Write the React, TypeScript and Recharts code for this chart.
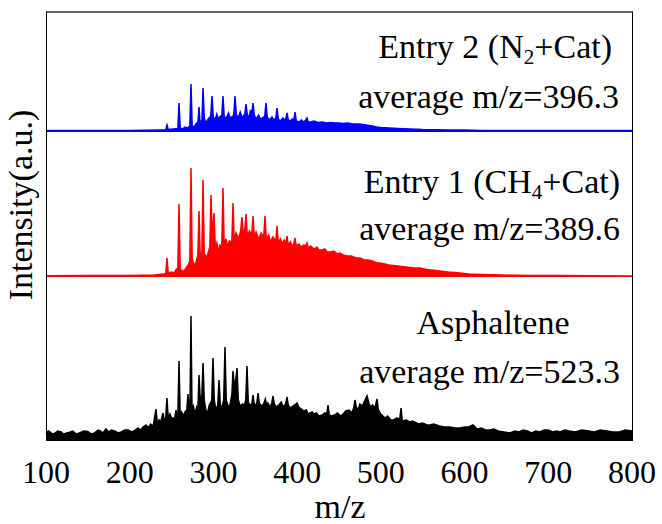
import { AreaChart, Area, XAxis, YAxis } from 'recharts';

// outline points [m/z, intensity]
const n2Cat: [number, number][] = [
  [100, 1.5], [150, 1.5], [200, 1.5], [236, 2], [243, 2], [244.5, 7], [246, 2.5], [252, 3], [257.5, 3.5],
  [258.9, 29], [260.3, 4], [263, 3], [266, 5], [269, 4], [271.8, 6], [273.2, 48], [274.6, 6], [277, 5],
  [279, 8], [281.5, 10], [282.8, 25], [284, 9], [286.3, 12], [287.6, 44], [289, 14], [291, 9], [293, 12],
  [296.8, 16], [298.3, 36], [299.8, 15], [302, 12], [304, 18], [306, 13], [308.5, 16], [310, 16],
  [311.4, 36], [312.8, 16], [315, 13], [318, 19], [320, 14], [322, 15], [324.3, 17], [325.8, 36],
  [327.3, 18], [329.5, 14], [332, 20], [334.5, 14], [337.5, 18], [338.9, 28], [340.3, 18], [342.5, 14],
  [344.3, 22], [345.8, 18], [347.3, 29], [348.8, 17], [351, 13], [354, 17], [356, 13], [358.5, 14],
  [361.3, 16], [362.8, 29], [364.3, 15], [367, 12], [370, 15], [372, 12], [374.5, 14], [376, 24],
  [377.5, 13], [380, 11], [383, 14], [385, 12], [386.4, 13], [387.9, 19], [389.4, 12], [392, 11],
  [394, 13], [396, 12], [397.5, 20], [399, 11], [402, 10], [405, 12], [408, 10], [410.3, 12],
  [411.8, 14], [413.3, 10], [416, 10], [420, 11], [425, 9.5], [430, 10], [435, 9], [440, 9.5],
  [445, 9], [450, 9], [455, 8.5], [460, 9], [467, 8], [475, 8], [482, 7], [490, 6], [495, 5],
  [500, 4.5], [510, 4], [520, 3.5], [535, 3], [550, 2.5], [565, 2.3], [580, 2], [600, 2], [620, 1.5],
  [700, 1.5], [800, 1.5],
];

const ch4Cat: [number, number][] = [
  [100, 1.2], [150, 1.5], [200, 1.5], [230, 2], [241, 3], [243, 3], [244.5, 19], [246, 4], [250, 5],
  [253, 4], [256, 8], [257.5, 9], [258.9, 73], [260.3, 8], [263, 6], [265, 6], [268, 10], [270, 12],
  [271.8, 16], [273.2, 109], [274.6, 18], [277, 12], [279, 14], [281.4, 22], [282.8, 66], [284.2, 20],
  [286.2, 25], [287.6, 97], [289, 24], [291, 20], [293, 22], [295.7, 30], [297.1, 82], [298.5, 40],
  [300.7, 64], [302.2, 30], [304, 34], [306, 26], [308, 32], [310, 30], [311.4, 89], [312.8, 32],
  [315, 38], [317, 30], [319, 36], [322, 35], [323.4, 74], [324.8, 36], [327, 44], [330, 38],
  [332.5, 46], [334.1, 60], [336, 40], [337.5, 48], [338.9, 63], [340.5, 40], [343, 46], [345.8, 42],
  [347.3, 61], [348.8, 40], [351, 45], [354, 38], [357, 44], [360.1, 40], [361.6, 61], [363.1, 38],
  [366, 42], [368, 35], [371, 40], [374.5, 36], [376, 51], [377.5, 34], [380, 38], [382, 33],
  [384.5, 37], [386.4, 34], [387.9, 41], [389.4, 32], [392, 35], [394, 31], [396, 33], [397.5, 39],
  [399, 31], [402, 33], [405, 30], [408, 32], [410.3, 31], [411.8, 34], [413.3, 29], [416, 31],
  [420, 28], [422.2, 29], [423.7, 30], [426, 27], [430, 27], [433, 28], [436, 25], [440, 25],
  [444, 26], [448, 23], [451.2, 24], [455, 22], [460, 21], [465, 21], [470, 19], [475, 19], [480, 17],
  [485, 17], [490, 16], [495, 14], [499, 14], [505, 13], [510, 12], [520, 11], [530, 10], [540, 9],
  [546.8, 9], [555, 7.5], [570, 6], [580, 5], [594.6, 4], [605, 3], [620, 2.5], [642.4, 2], [660, 1.8],
  [680, 1.5], [714, 1.5], [750, 1.3], [800, 1],
];

const asphaltene: [number, number][] = [
  [100, 7], [103, 9], [105, 8], [108, 6], [110, 6.5], [114, 9], [118, 8], [121, 6], [125, 7], [129, 8],
  [132, 9], [136, 6], [140, 7], [145, 9], [150, 8.5], [154, 6], [158, 7], [162, 10], [165, 9], [168, 7],
  [171.7, 11], [175, 8], [178, 10], [182, 9], [186, 7], [190, 8], [194, 10], [198, 10], [202, 8],
  [205, 9], [209.9, 12], [213, 10], [216, 13], [219.5, 15], [222, 12], [225, 16], [228, 14],
  [231.4, 31], [233, 16], [235, 20], [237, 18], [239.8, 27], [241.5, 18], [243, 22], [244.5, 42],
  [246, 21], [248, 26], [250, 22], [253.8, 22], [255.3, 30], [256.8, 22], [257.5, 24], [258.9, 79],
  [260.3, 24], [262, 28], [264, 24], [266, 28], [268.2, 30], [269.6, 46], [271, 30], [272, 32],
  [273.2, 124], [274.4, 30], [276, 34], [278, 26], [280, 33], [281.4, 30], [282.8, 65], [284.2, 40],
  [286.2, 45], [287.6, 77], [289, 40], [291, 30], [293, 27], [295, 35], [297, 38], [298, 40],
  [299.5, 82], [301, 40], [303, 30], [305.2, 35], [306.7, 60], [308.2, 35], [310, 32], [312.3, 40],
  [313.8, 93], [315.3, 40], [317, 35], [319, 33], [320.5, 38], [322, 45], [323.4, 69], [325, 55],
  [326.7, 60], [328.2, 72], [329.7, 40], [332, 34], [335, 36], [336.5, 33], [338.6, 40], [340.1, 74],
  [341.6, 38], [343.5, 35], [345.8, 36], [347.3, 45], [348.8, 36], [350.5, 34], [352, 38], [353.3, 47],
  [354.8, 37], [357, 34], [360, 36], [362, 41], [363.5, 35], [365, 37], [367.5, 33], [369.7, 37],
  [371.2, 44], [372.7, 36], [375, 33], [378, 35], [381, 38], [383, 33], [386.4, 36], [387.9, 43],
  [389.4, 35], [392, 32], [395, 34], [398.3, 36], [399.8, 37], [402, 33], [405, 31], [408, 29],
  [411, 30], [413, 26], [415.4, 27], [418, 28], [420, 26], [423, 27], [426, 24], [430, 25], [433, 27],
  [435.4, 26], [436.9, 35], [438.4, 25], [441, 24], [445, 25], [448, 27], [452, 24], [455, 26],
  [458, 29], [462, 30], [465, 27], [467.6, 32], [469.1, 40], [470.6, 33], [473, 30], [475, 36],
  [478, 34], [480, 38], [483.5, 44], [486, 36], [488, 33], [490, 35], [493, 32], [495.4, 41], [497, 30],
  [500, 26], [505, 22], [508, 24], [512, 20], [515, 20], [519, 22], [522.6, 21], [524.1, 32],
  [525.6, 19], [530, 20], [534.8, 18], [538, 19], [545, 16], [550, 17], [555, 15], [558.7, 15],
  [563, 16], [570, 14], [576, 13], [582.6, 13], [588, 12], [595, 12], [600, 13], [605, 13],
  [610.1, 15], [615, 11], [620, 12], [625, 10], [630.4, 10], [635, 11], [640, 9], [647, 8],
  [654.3, 7], [660, 9], [665, 8], [670, 10], [675, 9], [680, 7], [685, 9], [690.1, 8], [695, 10],
  [700, 10], [705, 8], [710, 9], [714, 8], [720, 10], [725, 9], [732, 8], [740, 10], [748, 9],
  [755, 8], [762, 10], [770, 9], [777, 8], [785, 8], [792, 10], [800, 9],
];

const xTicks = [100, 200, 300, 400, 500, 600, 700, 800];

const serif = "'Times New Roman', 'Liberation Serif', serif";
const toRows = (pts: [number, number][]) => pts.map(([mz, i]) => ({ mz, i }));

function Panel({ pts, color, top, height, max, axis }: {
  pts: [number, number][]; color: string; top: number; height: number; max: number; axis?: boolean;
}) {
  return (
    <div style={{ position: 'absolute', left: 0, top }}>
      <AreaChart width={662} height={height} data={toRows(pts)} margin={{ top: 0, right: 30, bottom: 0, left: 46 }}>
        <XAxis
          type="number"
          dataKey="mz"
          domain={[100, 800]}
          ticks={xTicks}
          hide={!axis}
          height={axis ? 84 : 0}
          axisLine={false}
          tickLine={false}
          tickSize={0}
          tickMargin={20}
          interval={0}
          tick={({ x, y, payload }: any) => (
            <text x={x} y={y} dy="0.71em" textAnchor="middle" fontSize={32} fontFamily={serif} fill="#000">
              {payload.value}
            </text>
          )}
        />
        <YAxis hide domain={[0, max]} />
        <Area
          type="linear"
          dataKey="i"
          stroke={color}
          strokeWidth={1.5}
          fill={color}
          fillOpacity={1}
          dot={false}
          activeDot={false}
          isAnimationActive={false}
        />
      </AreaChart>
    </div>
  );
}

const txt = { position: 'absolute' as const, fontFamily: serif, fontSize: 34, lineHeight: '34px', whiteSpace: 'nowrap' as const, color: '#000' };
const sub = { fontSize: '0.62em', position: 'relative' as const, top: '0.3em' };

export default function App() {
  return (
    <div style={{ position: 'absolute', left: 0, top: 0, width: 662, height: 524, background: '#fff', overflow: 'hidden' }}>
      <Panel pts={n2Cat} color="#0000ff" top={11} height={121} max={121} />
      <Panel pts={ch4Cat} color="#ff0000" top={132} height={145} max={145} />
      <Panel pts={asphaltene} color="#000000" top={277} height={247} max={163} axis />
      <div style={{ position: 'absolute', left: 46, top: 11, width: 587, height: 430, boxSizing: 'border-box', border: '1px solid #000', borderTop: '2px solid #666', pointerEvents: 'none' }} />

      <div style={{ ...txt, right: 50, top: 29.5 }}>Entry 2 (N<span style={sub}>2</span>+Cat)</div>
      <div style={{ ...txt, right: 43, top: 79.5 }}>average m/z=396.3</div>
      <div style={{ ...txt, right: 42, top: 164.5 }}>Entry 1 (CH<span style={sub}>4</span>+Cat)</div>
      <div style={{ ...txt, right: 42, top: 211.5 }}>average m/z=389.6</div>
      <div style={{ ...txt, left: 393, width: 200, textAlign: 'center', top: 305.5 }}>Asphaltene</div>
      <div style={{ ...txt, right: 42, top: 354.5 }}>average m/z=523.3</div>

      <div style={{ ...txt, left: 290, width: 100, textAlign: 'center', top: 489.5 }}>m/z</div>
      <div style={{ ...txt, left: 21 - 150, top: 205 - 17, width: 300, textAlign: 'center', transform: 'rotate(-90deg)' }}>Intensity(a.u.)</div>
    </div>
  );
}
